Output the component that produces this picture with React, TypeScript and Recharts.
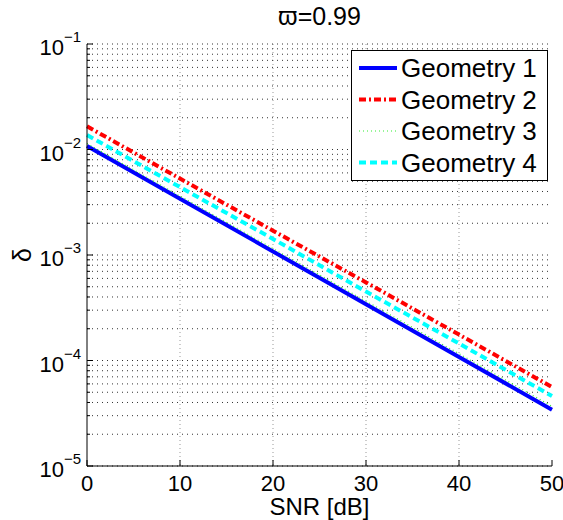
import React from 'react';
import { LineChart, Line, XAxis, YAxis, CartesianGrid, Legend, Label } from 'recharts';

// values (log y axis)
const snr = [0, 10, 20, 30, 40, 50];
const geometry1 = [1.08e-2, 3.42e-3, 1.08e-3, 3.42e-4, 1.08e-4, 3.42e-5];
const geometry2 = [1.66e-2, 5.3e-3, 1.7e-3, 5.5e-4, 1.76e-4, 5.6e-5];
const geometry3 = [1.14e-2, 3.62e-3, 1.15e-3, 3.65e-4, 1.16e-4, 3.68e-5];
const geometry4 = [1.37e-2, 4.4e-3, 1.42e-3, 4.5e-4, 1.45e-4, 4.6e-5];

const xTicks = [0, 10, 20, 30, 40, 50];
const decades = [1e-5, 1e-4, 1e-3, 1e-2, 1e-1];
const decadeLabels = ['\u22125', '\u22124', '\u22123', '\u22122', '\u22121'];

const FONT = '"Liberation Sans", Arial, Helvetica, sans-serif';

const series = [
  { key: 'g1', name: 'Geometry 1', color: '#0000ff', width: 4, dash: undefined },
  { key: 'g2', name: 'Geometry 2', color: '#ff0000', width: 4, dash: '7 3 2 3' },
  { key: 'g3', name: 'Geometry 3', color: '#33ee33', width: 1.2, dash: '1 3' },
  { key: 'g4', name: 'Geometry 4', color: '#00ffff', width: 4, dash: '7 4' },
];

const data = snr.map((s, i) => ({
  snr: s,
  g1: geometry1[i],
  g2: geometry2[i],
  g3: geometry3[i],
  g4: geometry4[i],
}));

// minor ticks 2..9 inside each decade
const minorValues: number[] = [];
decades.slice(0, -1).forEach((d) => {
  for (let k = 2; k <= 9; k++) minorValues.push(k * d);
});
const yTickValues = [...decades, ...minorValues];

const isDecade = (v: number) => decades.some((d) => Math.abs(v - d) / d < 1e-6);

const LeftTick = (props: any) => {
  const { x, y, payload } = props;
  const v = payload.value;
  const major = isDecade(v);
  const idx = decades.findIndex((d) => Math.abs(v - d) / d < 1e-6);
  return (
    <g>
      <line x1={x} x2={x + (major ? 6 : 3)} y1={y} y2={y} stroke="#000" strokeWidth={1} />
      {major && (
        <text x={x - 6} y={y + 11} textAnchor="end" fontFamily={FONT} fontSize={22} fill="#000">
          10
          <tspan dy={-13} fontSize={15}>{decadeLabels[idx]}</tspan>
        </text>
      )}
    </g>
  );
};

const RightTick = (props: any) => {
  const { x, y, payload } = props;
  const major = isDecade(payload.value);
  return <line x1={x} x2={x - (major ? 6 : 3)} y1={y} y2={y} stroke="#000" strokeWidth={1} />;
};

const BottomTick = (props: any) => {
  const { x, y, payload } = props;
  return (
    <g>
      <line x1={x} x2={x} y1={y} y2={y - 6} stroke="#000" strokeWidth={1} />
      <text x={x} y={y + 25} textAnchor="middle" fontFamily={FONT} fontSize={22} fill="#000">
        {payload.value}
      </text>
    </g>
  );
};

const TopTick = (props: any) => {
  const { x, y } = props;
  return <line x1={x} x2={x} y1={y} y2={y + 6} stroke="#000" strokeWidth={1} />;
};

const LegendBox = () => (
  <svg width={197} height={131} style={{ display: 'block', overflow: 'visible' }}>
    <rect x={0.5} y={0.5} width={196} height={130} fill="#fff" stroke="#000" strokeWidth={1} />
    {series.map((s, i) => {
      const cy = 18 + i * 31.5;
      return (
        <g key={s.key}>
          <line
            x1={8}
            x2={46}
            y1={cy}
            y2={cy}
            stroke={s.color}
            strokeWidth={s.width}
            strokeDasharray={s.dash}
          />
          <text x={50} y={cy + 9} fontFamily={FONT} fontSize={26} fill="#000">
            {s.name}
          </text>
        </g>
      );
    })}
  </svg>
);

export default function App() {
  return (
    <div style={{ position: 'absolute', left: 0, top: 0, width: 563, height: 520, background: '#fff' }}>
      <LineChart width={563} height={520} data={data} margin={{ top: 44, right: 11, bottom: 0, left: 0 }}>
        <CartesianGrid
          horizontal={false}
          verticalValues={[10, 20, 30, 40]}
          stroke="#999"
          strokeDasharray="1 3"
        />
        <CartesianGrid
          vertical={false}
          horizontalValues={yTickValues}
          stroke="#333"
          strokeDasharray="1 4"
        />
        <XAxis
          dataKey="snr"
          type="number"
          domain={[0, 50]}
          ticks={xTicks}
          interval={0}
          height={54}
          stroke="#000"
          tickLine={false}
          tickSize={0}
          tickMargin={0}
          tick={<BottomTick />}
        >
          <Label
            content={() => (
              <text x={319.5} y={515} textAnchor="middle" fontFamily={FONT} fontSize={24} fill="#000">
                SNR [dB]
              </text>
            )}
          />
        </XAxis>
        <XAxis
          xAxisId="top"
          dataKey="snr"
          type="number"
          orientation="top"
          domain={[0, 50]}
          ticks={xTicks}
          interval={0}
          height={0}
          stroke="#000"
          tickLine={false}
          tickSize={0}
          tickMargin={0}
          tick={<TopTick />}
        />
        <YAxis
          scale="log"
          type="number"
          domain={[1e-5, 1e-1]}
          allowDataOverflow
          ticks={yTickValues}
          interval={0}
          width={87}
          stroke="#000"
          tickLine={false}
          tickSize={0}
          tickMargin={0}
          tick={<LeftTick />}
        >
          <Label
            content={() => (
              <text
                x={31}
                y={255}
                textAnchor="middle"
                fontFamily={FONT}
                fontSize={25}
                fill="#000"
                transform="rotate(-90 31 255)"
              >
                {'\u03B4'}
              </text>
            )}
          />
          <Label
            content={() => (
              <text x={319.5} y={25} textAnchor="middle" fontFamily={FONT} fontSize={25} fill="#000">
                {'\u03D6=0.99'}
              </text>
            )}
          />
        </YAxis>
        <YAxis
          yAxisId="right"
          orientation="right"
          scale="log"
          type="number"
          domain={[1e-5, 1e-1]}
          allowDataOverflow
          ticks={yTickValues}
          interval={0}
          width={0}
          stroke="#000"
          tickLine={false}
          tickSize={0}
          tickMargin={0}
          tick={<RightTick />}
        />
        {series.map((s) => (
          <Line
            key={s.key}
            type="linear"
            dataKey={s.key}
            name={s.name}
            stroke={s.color}
            strokeWidth={s.width}
            strokeDasharray={s.dash}
            dot={false}
            activeDot={false}
            isAnimationActive={false}
          />
        ))}
        <Legend
          layout="horizontal"
          verticalAlign="middle"
          align="right"
          wrapperStyle={{ top: 50, left: 351, width: 0, height: 0, overflow: 'visible' }}
          content={() => <LegendBox />}
        />
      </LineChart>
    </div>
  );
}
